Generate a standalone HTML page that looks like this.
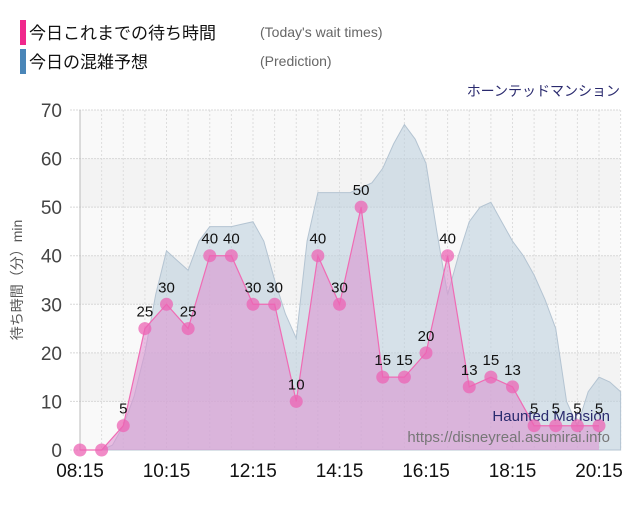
<!DOCTYPE html>
<html><head><meta charset="utf-8"><style>
body{margin:0;background:#fff;width:640px;height:500px;overflow:hidden;font-family:"Liberation Sans","Noto Sans CJK JP",sans-serif}
</style></head><body>
<svg id="c" width="640" height="500" xmlns="http://www.w3.org/2000/svg" font-family="Liberation Sans, Noto Sans CJK JP, sans-serif">
<g>
<rect x="20" y="20" width="6" height="25" fill="#f0288c"/>
<text x="29" y="39" font-size="17" fill="#111">今日これまでの待ち時間</text>
<text x="260" y="37" font-size="14" fill="#666">(Today's wait times)</text>
<rect x="20" y="49" width="6" height="25" fill="#4a86b8"/>
<text x="29" y="68" font-size="17" fill="#111">今日の混雑予想</text>
<text x="260" y="66" font-size="14" fill="#666">(Prediction)</text>
</g>
<text x="620" y="96" font-size="14" fill="#2a2a6e" text-anchor="end">ホーンテッドマンション</text>
<text transform="translate(22,280) rotate(-90)" font-size="14" fill="#555" text-anchor="middle">待ち時間（分）min</text>
<g id="plot"></g>
</svg>
<script>
const actualLabels=["08:15","08:45","09:15","09:45","10:15","10:45","11:15","11:45","12:15","12:45","13:15","13:45","14:15","14:45","15:15","15:45","16:15","16:45","17:15","17:45","18:15","18:45","19:15","19:45","20:15"];
const actualValues=[0,0,5,25,30,25,40,40,30,30,10,40,30,50,15,15,20,40,13,15,13,5,5,5,5];
const predictionValues=[0,0,0,1,5,11,20,32,41,39,37,43,46,46,46,46.5,47,43,35,28,23,43,53,53,53,53,54,55,58,63,67,64,59,45,32,40,47,50,51,47,43,40,36,31,25,10,5,12,15,14,12];
const yTicks=[0,10,20,30,40,50,60,70];
const xTickLabels=["08:15","10:15","12:15","14:15","16:15","18:15","20:15"];
const NS="http://www.w3.org/2000/svg";
const g=document.getElementById('plot');
const X0=80,Y0=450,L=80,R=620,T=110;
const xs=m=>X0+m*(519/720); // minutes from 08:15
const ys=v=>Y0-v*(340/70);
function el(t,a,p){const e=document.createElementNS(NS,t);for(const k in a)e.setAttribute(k,a[k]);(p||g).appendChild(e);return e;}
// bands
for(let i=0;i<7;i++){const b=el('rect',{x:L,y:ys(yTicks[i+1]),width:R-L,height:ys(yTicks[i])-ys(yTicks[i+1]),fill:i%2?'#f3f3f3':'#f9f9f9'});

}
// vertical grid
for(let m=0;m<=750;m+=30){const l=el('line',{x1:xs(m),x2:xs(m),y1:T,y2:Y0,stroke:'#ddd','stroke-dasharray':'2,2'});

}
yTicks.forEach(v=>{const l=el('line',{x1:L-10,x2:R,y1:ys(v),y2:ys(v),stroke:'#d8d8d8','stroke-dasharray':'2,1'});


const t=el('text',{x:62,y:ys(v)+7,'font-size':19,fill:'#444','text-anchor':'end'});t.textContent=v;

});
el('line',{x1:L,x2:L,y1:T,y2:Y0,stroke:'#bbb'});
xTickLabels.forEach((s,i)=>{const t=el('text',{x:xs(i*120),y:477,'font-size':19,fill:'#111','text-anchor':'middle'});t.textContent=s;

});
// prediction area
let pp=predictionValues.map((v,i)=>[xs(i*15),ys(v)]);
let pd='M'+pp[0][0]+','+Y0+pp.map(p=>'L'+p[0]+','+p[1]).join('')+'L'+pp[pp.length-1][0]+','+Y0+'Z';
const pa=el('path',{d:pd,fill:'rgba(190,208,222,0.6)',stroke:'#b4c4d2','stroke-width':1});


// actual area
let ap=actualValues.map((v,i)=>[xs(i*30),ys(v)]);
let ad='M'+ap[0][0]+','+Y0+ap.map(p=>'L'+p[0]+','+p[1]).join('')+'L'+ap[ap.length-1][0]+','+Y0+'Z';
const aa=el('path',{d:ad,fill:'rgba(220,150,210,0.6)',stroke:'none'});


const al=el('polyline',{points:ap.map(p=>p.join(',')).join(' '),fill:'none',stroke:'#f06bb4','stroke-width':1.2});


// watermark
const w1=el('text',{x:610,y:421,'font-size':15,fill:'#2a2a6e','text-anchor':'end'});w1.textContent='Haunted Mansion';


const w2=el('text',{x:610,y:442,'font-size':15,fill:'#777','text-anchor':'end'});w2.textContent='https://disneyreal.asumirai.info';


ap.forEach((p,i)=>{const c=el('circle',{cx:p[0],cy:p[1],r:6.5,fill:'rgba(236,100,180,0.75)'});


if(i>1){const t=el('text',{x:p[0],y:p[1]-12,'font-size':15,fill:'#111','text-anchor':'middle'});t.textContent=actualValues[i];

}});
</script>
</body></html>
